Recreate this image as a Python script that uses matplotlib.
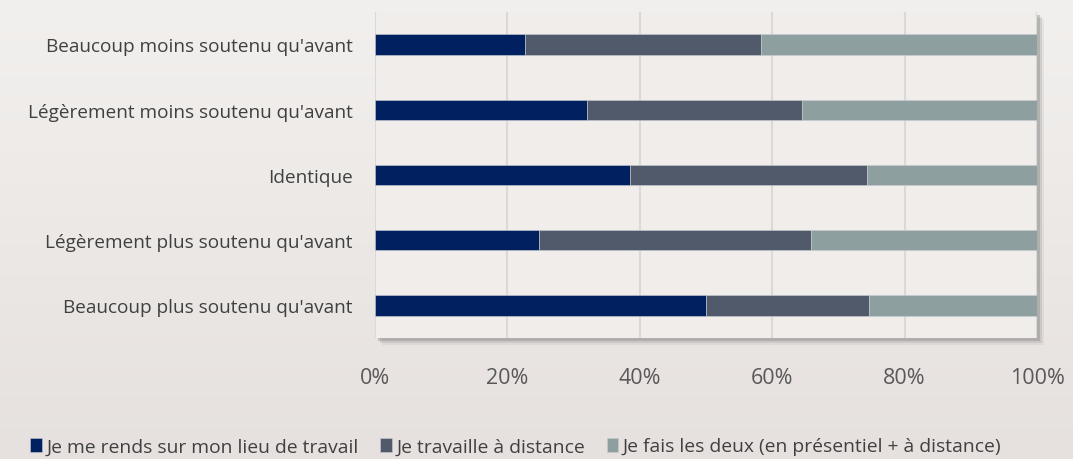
import numpy as np
import matplotlib
matplotlib.use('Agg')
import matplotlib.pyplot as plt
from matplotlib.patches import Rectangle

plt.rcParams['font.family'] = ['Open Sans', 'DejaVu Sans']

# data (percent of respondents)
categories = [
    "Beaucoup moins soutenu qu'avant",
    "Légèrement moins soutenu qu'avant",
    "Identique",
    "Légèrement plus soutenu qu'avant",
    "Beaucoup plus soutenu qu'avant",
]
series_names = [
    "Je me rends sur mon lieu de travail",
    "Je travaille à distance",
    "Je fais les deux (en présentiel + à distance)",
]
sur_site = [22.7, 32.0, 38.5, 24.8, 50.0]
distance = [35.6, 32.5, 35.8, 41.1, 24.6]
les_deux = [41.7, 35.5, 25.7, 34.1, 25.4]
colors = ['#00205F', '#515A6A', '#8E9FA0']

fig = plt.figure(figsize=(10.73, 4.6), dpi=100)

# background gradient
bg = fig.add_axes([0, 0, 1, 1], zorder=-10)
grad = np.linspace(0, 1, 256).reshape(-1, 1)
cmap = matplotlib.colors.LinearSegmentedColormap.from_list('bg', ['#F2F0EE', '#E6E1DF'])
bg.imshow(grad, aspect='auto', cmap=cmap, extent=[0, 1, 0, 1])
bg.axis('off')

left, bottom, width, height = 0.3495, 0.263, 0.617, 0.709
# shadow of the plot area
for off, a in [(7, 0.10), (5, 0.2), (3, 0.35)]:
    fig.patches.append(Rectangle((left + off / 1073, bottom - off / 460), width, height,
                                 transform=fig.transFigure, facecolor='#7F7F7F',
                                 edgecolor='none', alpha=a, zorder=-5))

ax = fig.add_axes([left, bottom, width, height])
ax.set_facecolor('#F0EDEB')

y = np.arange(len(categories))
data = [sur_site, distance, les_deux]
start = np.zeros(len(categories))
for vals, name, c in zip(data, series_names, colors):
    ax.barh(y, vals, left=start, height=0.31, color=c, label=name,
            edgecolor='#C8CDD2', linewidth=0.4, zorder=3)
    start += np.array(vals)

ax.set_xlim(0, 100)
ax.set_ylim(len(categories) - 0.5, -0.5)
ax.set_yticks(y)
ax.set_yticklabels(categories, fontsize=13.7, color='#404040')
ax.set_xticks([0, 20, 40, 60, 80, 100])
ax.set_xticklabels(['%d%%' % v for v in [0, 20, 40, 60, 80, 100]],
                   fontsize=15.5, color='#595959')
ax.tick_params(axis='both', length=0)
ax.tick_params(axis='x', pad=21)
ax.tick_params(axis='y', pad=16)
ax.grid(axis='x', color='#D9D9D9', linewidth=1.5, zorder=0)
for s in ax.spines.values():
    s.set_visible(False)

fig.legend(loc='lower left', bbox_to_anchor=(0.012, -0.03), ncol=3, frameon=False,
           fontsize=13.9, handlelength=0.6, handleheight=0.75, handletextpad=0.25,
           columnspacing=1.1, labelcolor='#404040')

fig.savefig('out.png', dpi=100)
